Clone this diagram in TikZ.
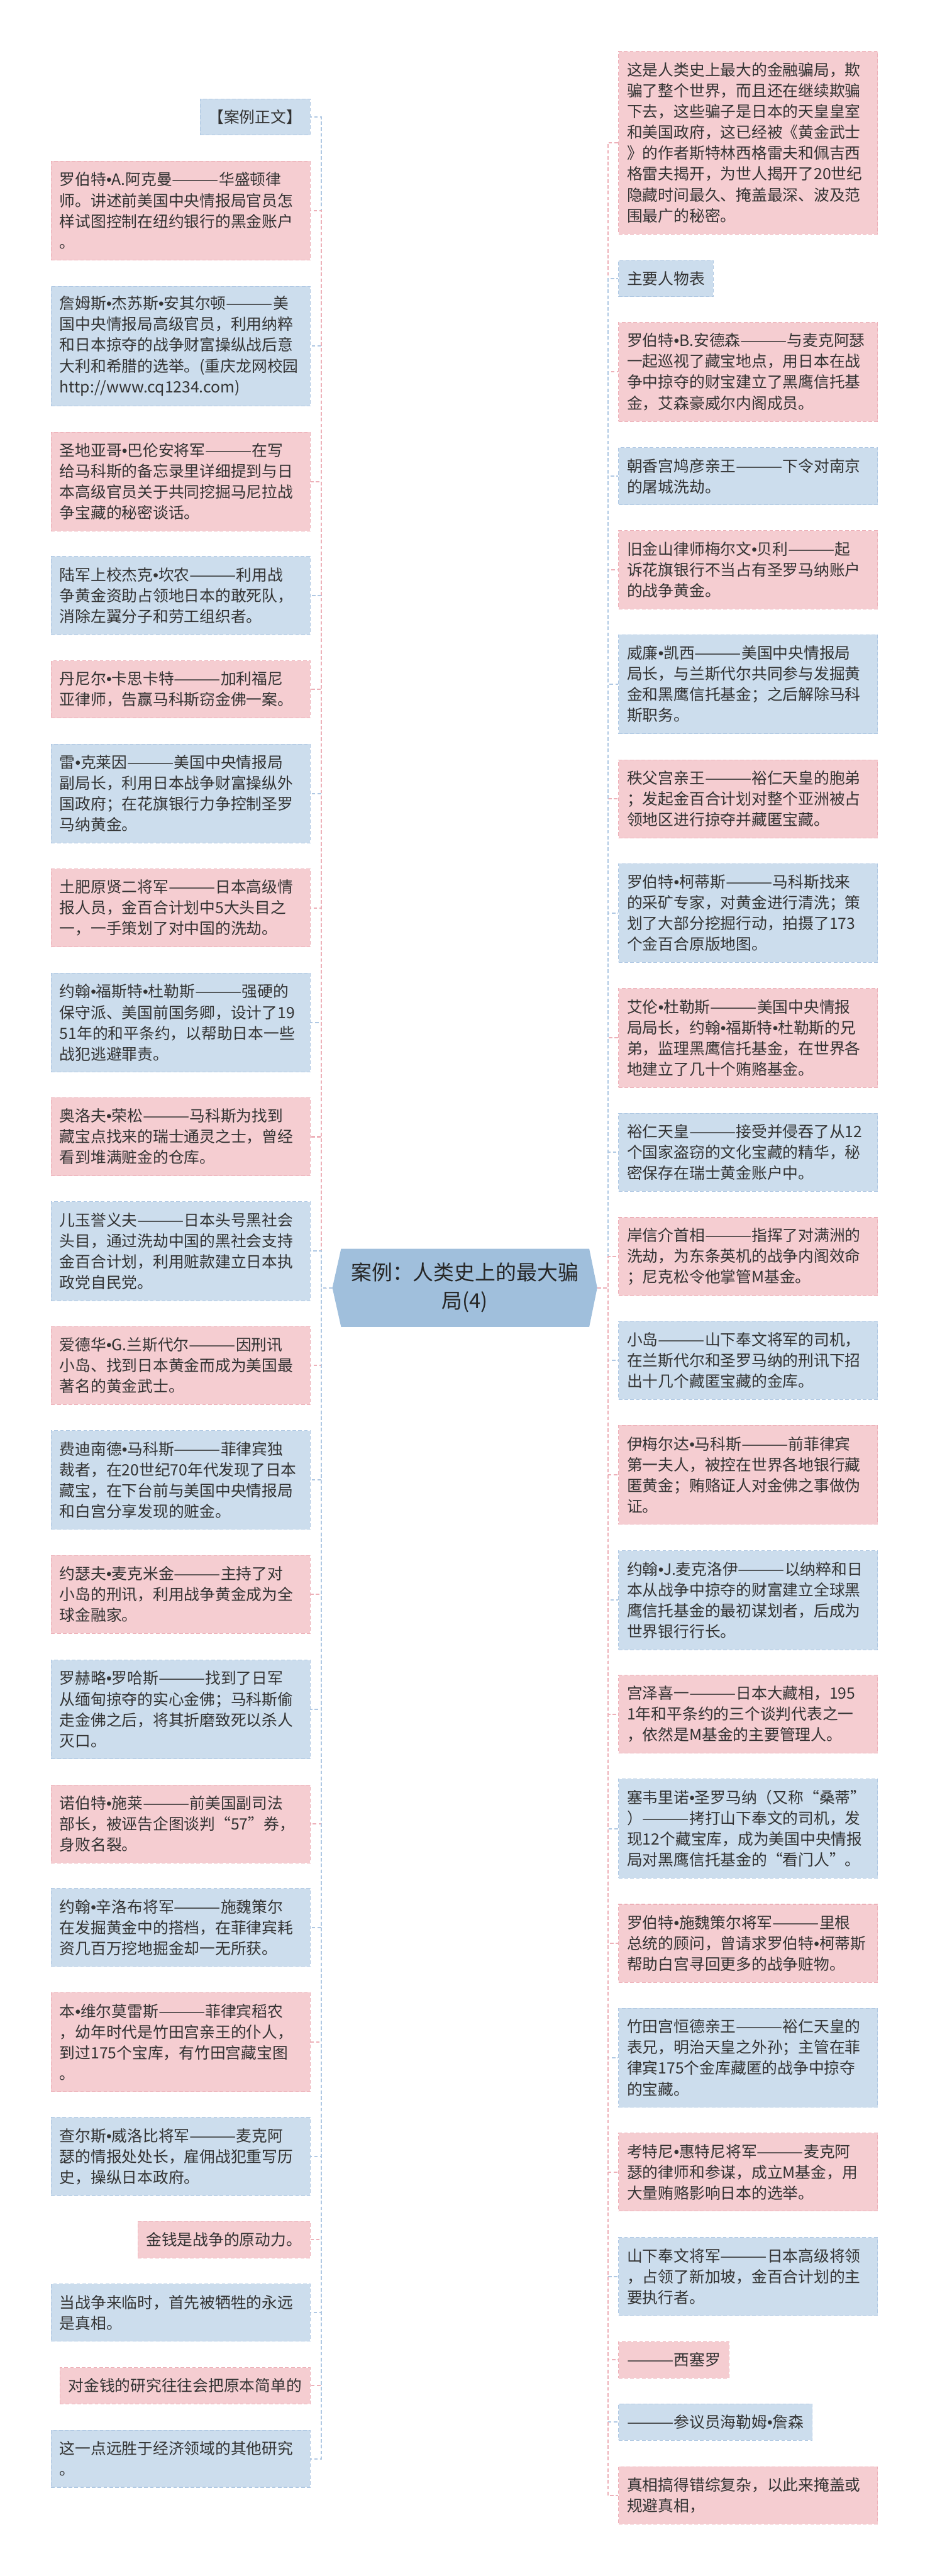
\documentclass[tikz,border=0pt]{standalone}
\usepackage{fontspec}
\usepackage{graphicx}
\usetikzlibrary{backgrounds}
\setmainfont{Noto Sans CJK SC}
\newfontfamily\latinfont{Liberation Sans}
\newcommand{\namedot}{{\latinfont •}}
\newcommand{\threedash}{\resizebox{3em}{\height}{———}}
\XeTeXdashbreakstate=0
\definecolor{pinkfill}{HTML}{F5CDD1}
\definecolor{pinkline}{HTML}{EDB0B8}
\definecolor{bluefill}{HTML}{CCDDED}
\definecolor{blueline}{HTML}{AFC8E3}
\definecolor{ctrfill}{HTML}{A0BFDC}
\definecolor{txt}{HTML}{333333}
\begin{document}
\begin{tikzpicture}[
    every node/.style={font=\fontsize{12.2pt}{16.3pt}\selectfont, text=txt},
    card/.style={dashed, dash pattern=on 1mm off 0.6mm, line width=0.5pt, align=left, inner xsep=0.23cm, inner ysep=2pt},
    pcard/.style={card, draw=pinkline, fill=pinkfill},
    bcard/.style={card, draw=blueline, fill=bluefill},
    wide/.style={text width=6.67cm},
    l1/.style={minimum height=1.0cm},
    l2/.style={minimum height=1.575cm},
    l3/.style={minimum height=2.15cm},
    l4/.style={minimum height=2.725cm},
    l5/.style={minimum height=3.3cm},
    l8/.style={minimum height=5.025cm},
    lcol/.style={anchor=east},
    rcol/.style={anchor=west},
    ctrbox/.style={align=center, text=black!85, font=\fontsize{16.2pt}{22.1pt}\selectfont, minimum width=7.28cm, minimum height=2.14cm, inner sep=0pt},
    plink/.style={draw=pinkline, dashed, dash pattern=on 1mm off 0.6mm, line width=1pt},
    blink/.style={draw=blueline, dashed, dash pattern=on 1mm off 0.6mm, line width=1pt}
]
    \useasboundingbox (0,0) rectangle (25.6,-70.93);

    \node[ctrbox] (ctr) at (12.80,-35.46) {案例：人类史上的最大骗\\局(4)};
    \begin{scope}[on background layer]
        \fill[ctrfill] ([xshift=0.24cm]ctr.north west) -- ([xshift=-0.22cm]ctr.north east) -- (ctr.east)
            -- ([xshift=-0.22cm]ctr.south east) -- ([xshift=0.24cm]ctr.south west) -- (ctr.west) -- cycle;
    \end{scope}
    \coordinate (lj) at (8.85,-35.46);
    \coordinate (rj) at (16.74,-35.46);

    % left column
    \node[bcard, l1, lcol] (L1) at (8.55,-3.22) {【案例正文】};
    \node[pcard, l4, lcol, wide] (L2) at (8.55,-5.80) {罗伯特\namedot{}A.阿克曼\threedash{}华盛顿律\\师。讲述前美国中央情报局官员怎\\样试图控制在纽约银行的黑金账户\\。};
    \node[bcard, l5, lcol, wide] (L3) at (8.55,-9.53) {詹姆斯\namedot{}杰苏斯\namedot{}安其尔顿\threedash{}美\\国中央情报局高级官员，利用纳粹\\和日本掠夺的战争财富操纵战后意\\大利和希腊的选举。(重庆龙网校园\\http://www.cq1234.com)};
    \node[pcard, l4, lcol, wide] (L4) at (8.55,-13.26) {圣地亚哥\namedot{}巴伦安将军\threedash{}在写\\给马科斯的备忘录里详细提到与日\\本高级官员关于共同挖掘马尼拉战\\争宝藏的秘密谈话。};
    \node[bcard, l3, lcol, wide] (L5) at (8.55,-16.40) {陆军上校杰克\namedot{}坎农\threedash{}利用战\\争黄金资助占领地日本的敢死队，\\消除左翼分子和劳工组织者。};
    \node[pcard, l2, lcol, wide] (L6) at (8.55,-18.98) {丹尼尔\namedot{}卡思卡特\threedash{}加利福尼\\亚律师，告赢马科斯窃金佛一案。};
    \node[bcard, l4, lcol, wide] (L7) at (8.55,-21.85) {雷\namedot{}克莱因\threedash{}美国中央情报局\\副局长，利用日本战争财富操纵外\\国政府；在花旗银行力争控制圣罗\\马纳黄金。};
    \node[pcard, l3, lcol, wide] (L8) at (8.55,-25.00) {土肥原贤二将军\threedash{}日本高级情\\报人员，金百合计划中5大头目之\\一，一手策划了对中国的洗劫。};
    \node[bcard, l4, lcol, wide] (L9) at (8.55,-28.16) {约翰\namedot{}福斯特\namedot{}杜勒斯\threedash{}强硬的\\保守派、美国前国务卿，设计了19\\51年的和平条约，以帮助日本一些\\战犯逃避罪责。};
    \node[pcard, l3, lcol, wide] (L10) at (8.55,-31.30) {奥洛夫\namedot{}荣松\threedash{}马科斯为找到\\藏宝点找来的瑞士通灵之士，曾经\\看到堆满赃金的仓库。};
    \node[bcard, l4, lcol, wide] (L11) at (8.55,-34.45) {儿玉誉义夫\threedash{}日本头号黑社会\\头目，通过洗劫中国的黑社会支持\\金百合计划，利用赃款建立日本执\\政党自民党。};
    \node[pcard, l3, lcol, wide] (L12) at (8.55,-37.60) {爱德华\namedot{}G.兰斯代尔\threedash{}因刑讯\\小岛、找到日本黄金而成为美国最\\著名的黄金武士。};
    \node[bcard, l4, lcol, wide] (L13) at (8.55,-40.75) {费迪南德\namedot{}马科斯\threedash{}菲律宾独\\裁者，在20世纪70年代发现了日本\\藏宝，在下台前与美国中央情报局\\和白宫分享发现的赃金。};
    \node[pcard, l3, lcol, wide] (L14) at (8.55,-43.90) {约瑟夫\namedot{}麦克米金\threedash{}主持了对\\小岛的刑讯，利用战争黄金成为全\\球金融家。};
    \node[bcard, l4, lcol, wide] (L15) at (8.55,-47.07) {罗赫略\namedot{}罗哈斯\threedash{}找到了日军\\从缅甸掠夺的实心金佛；马科斯偷\\走金佛之后，将其折磨致死以杀人\\灭口。};
    \node[pcard, l3, lcol, wide] (L16) at (8.55,-50.22) {诺伯特\namedot{}施莱\threedash{}前美国副司法\\部长，被诬告企图谈判“57”券，\\身败名裂。};
    \node[bcard, l3, lcol, wide] (L17) at (8.55,-53.07) {约翰\namedot{}辛洛布将军\threedash{}施魏策尔\\在发掘黄金中的搭档，在菲律宾耗\\资几百万挖地掘金却一无所获。};
    \node[pcard, l4, lcol, wide] (L18) at (8.55,-56.23) {本\namedot{}维尔莫雷斯\threedash{}菲律宾稻农\\，幼年时代是竹田宫亲王的仆人，\\到过175个宝库，有竹田宫藏宝图\\。};
    \node[bcard, l3, lcol, wide] (L19) at (8.55,-59.38) {查尔斯\namedot{}威洛比将军\threedash{}麦克阿\\瑟的情报处处长，雇佣战犯重写历\\史，操纵日本政府。};
    \node[pcard, l1, lcol] (L20) at (8.55,-61.67) {金钱是战争的原动力。};
    \node[bcard, l2, lcol, wide] (L21) at (8.55,-63.68) {当战争来临时，首先被牺牲的永远\\是真相。};
    \node[pcard, l1, lcol] (L22) at (8.55,-65.69) {对金钱的研究往往会把原本简单的};
    \node[bcard, l2, lcol, wide] (L23) at (8.55,-67.70) {这一点远胜于经济领域的其他研究\\。};

    % right column
    \node[pcard, l8, rcol, wide] (R1) at (17.03,-3.93) {这是人类史上最大的金融骗局，欺\\骗了整个世界，而且还在继续欺骗\\下去，这些骗子是日本的天皇皇室\\和美国政府，这已经被《黄金武士\\》的作者斯特林西格雷夫和佩吉西\\格雷夫揭开，为世人揭开了20世纪\\隐藏时间最久、掩盖最深、波及范\\围最广的秘密。};
    \node[bcard, l1, rcol] (R2) at (17.03,-7.67) {主要人物表};
    \node[pcard, l4, rcol, wide] (R3) at (17.03,-10.24) {罗伯特\namedot{}B.安德森\threedash{}与麦克阿瑟\\一起巡视了藏宝地点，用日本在战\\争中掠夺的财宝建立了黑鹰信托基\\金，艾森豪威尔内阁成员。};
    \node[bcard, l2, rcol, wide] (R4) at (17.03,-13.11) {朝香宫鸠彦亲王\threedash{}下令对南京\\的屠城洗劫。};
    \node[pcard, l3, rcol, wide] (R5) at (17.03,-15.69) {旧金山律师梅尔文\namedot{}贝利\threedash{}起\\诉花旗银行不当占有圣罗马纳账户\\的战争黄金。};
    \node[bcard, l4, rcol, wide] (R6) at (17.03,-18.84) {威廉\namedot{}凯西\threedash{}美国中央情报局\\局长，与兰斯代尔共同参与发掘黄\\金和黑鹰信托基金；之后解除马科\\斯职务。};
    \node[pcard, l3, rcol, wide] (R7) at (17.03,-22.00) {秩父宫亲王\threedash{}裕仁天皇的胞弟\\；发起金百合计划对整个亚洲被占\\领地区进行掠夺并藏匿宝藏。};
    \node[bcard, l4, rcol, wide] (R8) at (17.03,-25.14) {罗伯特\namedot{}柯蒂斯\threedash{}马科斯找来\\的采矿专家，对黄金进行清洗；策\\划了大部分挖掘行动，拍摄了173\\个金百合原版地图。};
    \node[pcard, l4, rcol, wide] (R9) at (17.03,-28.58) {艾伦\namedot{}杜勒斯\threedash{}美国中央情报\\局局长，约翰\namedot{}福斯特\namedot{}杜勒斯的兄\\弟，监理黑鹰信托基金，在世界各\\地建立了几十个贿赂基金。};
    \node[bcard, l3, rcol, wide] (R10) at (17.03,-31.73) {裕仁天皇\threedash{}接受并侵吞了从12\\个国家盗窃的文化宝藏的精华，秘\\密保存在瑞士黄金账户中。};
    \node[pcard, l3, rcol, wide] (R11) at (17.03,-34.60) {岸信介首相\threedash{}指挥了对满洲的\\洗劫，为东条英机的战争内阁效命\\；尼克松令他掌管M基金。};
    \node[bcard, l3, rcol, wide] (R12) at (17.03,-37.46) {小岛\threedash{}山下奉文将军的司机，\\在兰斯代尔和圣罗马纳的刑讯下招\\出十几个藏匿宝藏的金库。};
    \node[pcard, l4, rcol, wide] (R13) at (17.03,-40.61) {伊梅尔达\namedot{}马科斯\threedash{}前菲律宾\\第一夫人，被控在世界各地银行藏\\匿黄金；贿赂证人对金佛之事做伪\\证。};
    \node[bcard, l4, rcol, wide] (R14) at (17.03,-44.06) {约翰\namedot{}J.麦克洛伊\threedash{}以纳粹和日\\本从战争中掠夺的财富建立全球黑\\鹰信托基金的最初谋划者，后成为\\世界银行行长。};
    \node[pcard, l3, rcol, wide] (R15) at (17.03,-47.20) {宫泽喜一\threedash{}日本大藏相，195\\1年和平条约的三个谈判代表之一\\，依然是M基金的主要管理人。};
    \node[bcard, l4, rcol, wide] (R16) at (17.03,-50.35) {塞韦里诺\namedot{}圣罗马纳（又称“桑蒂”\\）\threedash{}拷打山下奉文的司机，发\\现12个藏宝库，成为美国中央情报\\局对黑鹰信托基金的“看门人”。};
    \node[pcard, l3, rcol, wide] (R17) at (17.03,-53.51) {罗伯特\namedot{}施魏策尔将军\threedash{}里根\\总统的顾问，曾请求罗伯特\namedot{}柯蒂斯\\帮助白宫寻回更多的战争赃物。};
    \node[bcard, l4, rcol, wide] (R18) at (17.03,-56.66) {竹田宫恒德亲王\threedash{}裕仁天皇的\\表兄，明治天皇之外孙；主管在菲\\律宾175个金库藏匿的战争中掠夺\\的宝藏。};
    \node[pcard, l3, rcol, wide] (R19) at (17.03,-59.81) {考特尼\namedot{}惠特尼将军\threedash{}麦克阿\\瑟的律师和参谋，成立M基金，用\\大量贿赂影响日本的选举。};
    \node[bcard, l3, rcol, wide] (R20) at (17.03,-62.68) {山下奉文将军\threedash{}日本高级将领\\，占领了新加坡，金百合计划的主\\要执行者。};
    \node[pcard, l1, rcol] (R21) at (17.03,-64.98) {\threedash{}西塞罗};
    \node[bcard, l1, rcol] (R22) at (17.03,-66.69) {\threedash{}参议员海勒姆\namedot{}詹森};
    \node[pcard, l2, rcol, wide] (R23) at (17.03,-68.71) {真相搞得错综复杂，以此来掩盖或\\规避真相，};

    % connectors, upper left
    \draw[blink] (ctr.west) -- (lj) |- (L1.east);
    \draw[blink] (ctr.west) -- (lj) |- (L3.east);
    \draw[plink] (ctr.west) -- (lj) |- (L4.east);
    \draw[blink] (ctr.west) -- (lj) |- (L5.east);
    \draw[plink] (ctr.west) -- (lj) |- (L6.east);
    \draw[blink] (ctr.west) -- (lj) |- (L7.east);
    \draw[plink] (ctr.west) -- (lj) |- (L8.east);
    \draw[blink] (ctr.west) -- (lj) |- (L9.east);
    \draw[plink] (ctr.west) -- (lj) |- (L10.east);
    \draw[plink] (ctr.west) -- (lj) |- (L2.east);
    \draw[blink] (ctr.west) -- (lj) |- (L11.east);
    % connectors, lower left
    \draw[plink] (ctr.west) -- (lj) |- (L12.east);
    \draw[blink] (ctr.west) -- (lj) |- (L13.east);
    \draw[plink] (ctr.west) -- (lj) |- (L14.east);
    \draw[blink] (ctr.west) -- (lj) |- (L15.east);
    \draw[plink] (ctr.west) -- (lj) |- (L16.east);
    \draw[blink] (ctr.west) -- (lj) |- (L17.east);
    \draw[plink] (ctr.west) -- (lj) |- (L18.east);
    \draw[blink] (ctr.west) -- (lj) |- (L19.east);
    \draw[plink] (ctr.west) -- (lj) |- (L20.east);
    \draw[blink] (ctr.west) -- (lj) |- (L21.east);
    \draw[plink] (ctr.west) -- (lj) |- (L22.east);
    \draw[blink] (ctr.west) -- (lj) |- (L23.east);
    % connectors, upper right
    \draw[plink] (ctr.east) -- (rj) |- (R1.west);
    \draw[plink] (ctr.east) -- (rj) |- (R3.west);
    \draw[blink] (ctr.east) -- (rj) |- (R4.west);
    \draw[plink] (ctr.east) -- (rj) |- (R5.west);
    \draw[blink] (ctr.east) -- (rj) |- (R6.west);
    \draw[plink] (ctr.east) -- (rj) |- (R7.west);
    \draw[blink] (ctr.east) -- (rj) |- (R8.west);
    \draw[plink] (ctr.east) -- (rj) |- (R9.west);
    \draw[blink] (ctr.east) -- (rj) |- (R10.west);
    \draw[blink] (ctr.east) -- (rj) |- (R2.west);
    \draw[plink] (ctr.east) -- (rj) |- (R11.west);
    % connectors, lower right
    \draw[blink] (ctr.east) -- (rj) |- (R12.west);
    \draw[plink] (ctr.east) -- (rj) |- (R13.west);
    \draw[blink] (ctr.east) -- (rj) |- (R14.west);
    \draw[plink] (ctr.east) -- (rj) |- (R15.west);
    \draw[blink] (ctr.east) -- (rj) |- (R16.west);
    \draw[plink] (ctr.east) -- (rj) |- (R17.west);
    \draw[blink] (ctr.east) -- (rj) |- (R18.west);
    \draw[plink] (ctr.east) -- (rj) |- (R19.west);
    \draw[blink] (ctr.east) -- (rj) |- (R20.west);
    \draw[plink] (ctr.east) -- (rj) |- (R21.west);
    \draw[blink] (ctr.east) -- (rj) |- (R22.west);
    \draw[plink] (ctr.east) -- (rj) |- (R23.west);
\end{tikzpicture}
\end{document}
